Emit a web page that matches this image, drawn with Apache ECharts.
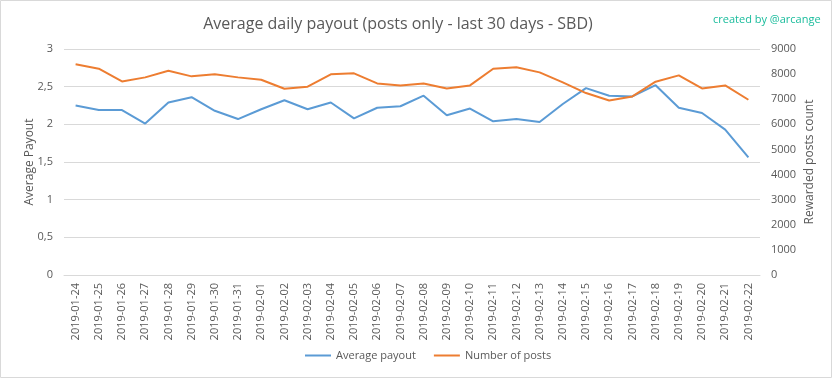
<!DOCTYPE html>
<html><head><meta charset="utf-8">
<script src="https://cdn.jsdelivr.net/npm/echarts@6/dist/echarts.min.js"></script>
<style>html,body{margin:0;padding:0;background:#fff}#c{width:833px;height:379px}</style>
</head><body><div id="c"></div>
<script>
const categories = ['2019-01-24','2019-01-25','2019-01-26','2019-01-27','2019-01-28','2019-01-29','2019-01-30','2019-01-31','2019-02-01','2019-02-02','2019-02-03','2019-02-04','2019-02-05','2019-02-06','2019-02-07','2019-02-08','2019-02-09','2019-02-10','2019-02-11','2019-02-12','2019-02-13','2019-02-14','2019-02-15','2019-02-16','2019-02-17','2019-02-18','2019-02-19','2019-02-20','2019-02-21','2019-02-22'];
const avgPayout = [2.25,2.19,2.19,2.01,2.29,2.36,2.18,2.07,2.20,2.32,2.20,2.29,2.08,2.22,2.24,2.38,2.12,2.21,2.04,2.07,2.03,2.27,2.48,2.38,2.37,2.52,2.22,2.15,1.93,1.56];
const numPosts = [8390,8215,7710,7870,8136,7910,7990,7870,7777,7418,7497,7990,8030,7630,7550,7630,7431,7550,8215,8270,8070,7670,7245,6952,7112,7697,7950,7431,7550,6979];
const leftTicks = ['0','0,5','1','1,5','2','2,5','3'];
const leftName = 'Average Payout';
const rightName = 'Rewarded posts count';

const chart = echarts.init(document.getElementById('c'));
const lab = {color:'#595959', fontSize:11, fontFamily:'Open Sans'};
const nameStyle = {fill:'#595959', fontSize:12, fontFamily:'Open Sans', align:'center', verticalAlign:'middle'};
chart.setOption({
  animation:false,
  title:[{text:'Average daily payout (posts only - last 30 days - SBD)', left:393, top:11, textAlign:'center',
    textStyle:{fontSize:16, fontWeight:'normal', color:'#595959', fontFamily:'Open Sans'}},
    {text:'created by @arcange', left:708, top:9, textStyle:{fontSize:11, fontWeight:'normal', color:'#1abc9c', fontFamily:'Open Sans'}}],
  graphic:[{type:'rect', shape:{x:0.5,y:0.5,width:831,height:377}, style:{fill:'none', stroke:'#d9d9d9', lineWidth:1}, silent:true},
    {type:'text', x:30, y:162, rotation:Math.PI/2, style:Object.assign({text:leftName}, nameStyle), silent:true},
    {type:'text', x:810, y:162, rotation:Math.PI/2, style:Object.assign({text:rightName}, nameStyle), silent:true}],
  legend:{bottom:13, left:300, itemWidth:26, itemHeight:2, itemGap:18, icon:'rect',
    textStyle:{color:'#595959', fontSize:11, fontFamily:'Open Sans'},
    data:['Average payout','Number of posts']},
  grid:{left:64, right:73, top:49, bottom:104},
  xAxis:{type:'category', data:categories, boundaryGap:true,
    axisLine:{show:true, lineStyle:{color:'#d9d9d9'}}, axisTick:{show:false},
    axisLabel:Object.assign({rotate:90, interval:0, margin:8}, lab)},
  yAxis:[{type:'value', min:0, max:3, interval:0.5,
      axisLine:{show:false}, axisTick:{show:false},
      axisLabel:Object.assign({margin:11, formatter:(v)=>leftTicks[Math.round(v*2)]}, lab),
      splitLine:{lineStyle:{color:'#d9d9d9'}}},
    {type:'value', min:0, max:9000, interval:1000,
      axisLine:{show:false}, axisTick:{show:false}, axisLabel:Object.assign({margin:11, formatter:(v)=>String(v)}, lab), splitLine:{show:false}}],
  series:[{name:'Average payout', type:'line', yAxisIndex:0, data:avgPayout, symbol:'none', lineStyle:{color:'#5b9bd5', width:2}, itemStyle:{color:'#5b9bd5'}},
    {name:'Number of posts', type:'line', yAxisIndex:1, data:numPosts, symbol:'none', lineStyle:{color:'#ed7d31', width:2}, itemStyle:{color:'#ed7d31'}}]
});
</script></body></html>
